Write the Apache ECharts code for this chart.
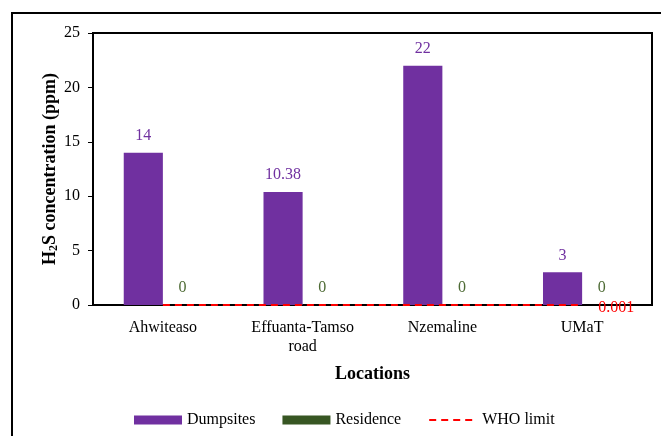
<!DOCTYPE html>
<html>
<head>
<meta charset="utf-8">
<script src="https://cdn.jsdelivr.net/npm/echarts@6/dist/echarts.min.js"></script>
<style>
  html, body { margin: 0; padding: 0; background: #fff; }
  #chart { width: 661px; height: 436px; }
</style>
</head>
<body>
<div id="chart"></div>
<script>
// H2S concentration by sampling location
const locations = ['Ahwiteaso', 'Effuanta-Tamso\nroad', 'Nzemaline', 'UMaT'];
const dumpsites = [14, 10.38, 22, 3];
const residence = [0, 0, 0, 0];
const whoLimit = [0.001, 0.001, 0.001, 0.001];
const yTicks = { min: 0, max: 25, interval: 5 };

const serif = '"Liberation Serif", "Times New Roman", serif';
const purple = '#7030A0';
const green = '#375623';

const chart = echarts.init(document.getElementById('chart'));
chart.setOption({
  animation: false,
  textStyle: { fontFamily: serif },
  graphic: [{
    type: 'rect',
    shape: { x: 12, y: 13, width: 720, height: 500 },
    style: { fill: 'none', stroke: '#000', lineWidth: 2 },
    silent: true
  }],
  grid: {
    left: 93, top: 33, right: 9, bottom: 131,
    show: true, borderColor: '#000', borderWidth: 2, backgroundColor: 'transparent'
  },
  legend: {
    top: 407, left: 129,
    itemWidth: 48, itemHeight: 9, itemGap: 27,
    textStyle: { fontFamily: serif, fontSize: 16, color: '#000' },
    data: [
      { name: 'Dumpsites', icon: 'rect' },
      { name: 'Residence', icon: 'rect' },
      { name: 'WHO limit', itemStyle: { opacity: 0 } }
    ]
  },
  xAxis: {
    type: 'category',
    data: locations,
    name: 'Locations',
    nameLocation: 'middle',
    nameGap: 60,
    nameMoveOverlap: false,
    nameTextStyle: { fontFamily: serif, fontSize: 18, fontWeight: 'bold', color: '#000' },
    axisLine: { lineStyle: { color: '#000', width: 2 } },
    axisTick: { show: false },
    axisLabel: { fontFamily: serif, fontSize: 16, color: '#000', margin: 13, lineHeight: 19 }
  },
  yAxis: {
    type: 'value',
    min: yTicks.min, max: yTicks.max, interval: yTicks.interval,
    name: '{b|H}{s|2}{b|S concentration (ppm)}',
    nameLocation: 'middle',
    nameGap: 33,
    nameMoveOverlap: false,
    nameTextStyle: {
      rich: {
        b: { fontFamily: serif, fontSize: 18, fontWeight: 'bold', color: '#000' },
        s: { fontFamily: serif, fontSize: 12, fontWeight: 'bold', color: '#000', verticalAlign: 'bottom', padding: [7, 0, 0, 0] }
      }
    },
    splitLine: { show: false },
    axisLine: { show: true, lineStyle: { color: '#000', width: 2 } },
    axisTick: { show: true, length: 5, lineStyle: { color: '#000', width: 1 } },
    axisLabel: { fontFamily: serif, fontSize: 16, color: '#000', margin: 13 }
  },
  series: [
    {
      name: 'Dumpsites',
      type: 'bar',
      data: dumpsites,
      barGap: '0%',
      barCategoryGap: '44%',
      itemStyle: { color: purple },
      label: { show: true, position: 'top', distance: 9, fontFamily: serif, fontSize: 16, color: purple }
    },
    {
      name: 'Residence',
      type: 'bar',
      data: residence,
      itemStyle: { color: green },
      label: { show: true, position: 'top', distance: 9, fontFamily: serif, fontSize: 16, color: '#4E6B35' }
    },
    {
      name: 'WHO limit',
      type: 'line',
      data: whoLimit,
      symbol: 'circle',
      symbolSize: 0.01,
      showSymbol: true,
      clip: false,
      lineStyle: { color: '#FF0000', width: 2, type: [7, 5] },
      itemStyle: { color: '#FF0000' },
      z: 5,
      label: {
        show: true, position: 'right', distance: 16,
        fontFamily: serif, fontSize: 16, color: '#FF0000', offset: [0, 3],
        formatter: p => p.dataIndex === whoLimit.length - 1 ? String(p.value) : ''
      }
    }
  ]
});
</script>
</body>
</html>
